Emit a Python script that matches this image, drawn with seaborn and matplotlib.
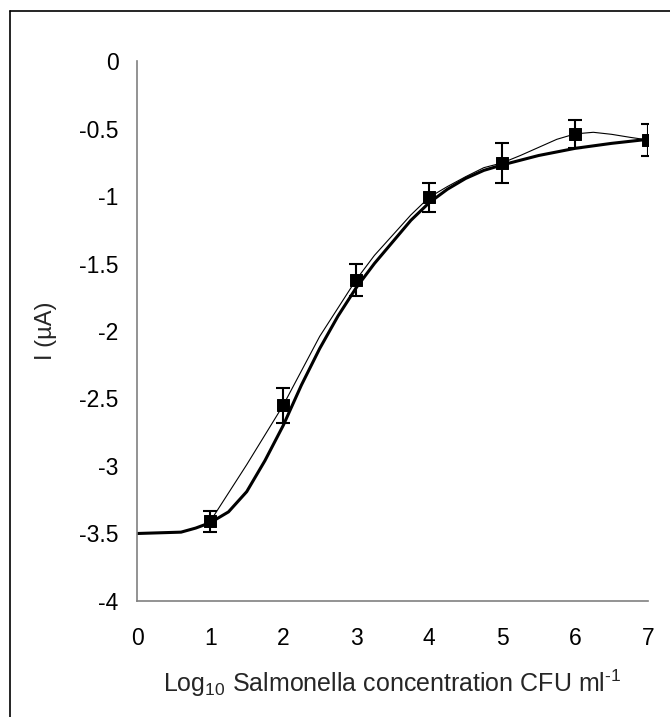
import seaborn as sns
import matplotlib.pyplot as plt
from matplotlib.lines import Line2D

# measured points (mean +/- error)
conc = [1, 2, 3, 4, 5, 6, 7]
current = [-3.41, -2.55, -1.62, -1.01, -0.755, -0.54, -0.585]
err = [0.08, 0.13, 0.12, 0.105, 0.145, 0.105, 0.117]

# smoothed line through the points
smooth_x = [1, 1.25, 1.5, 2, 2.5, 3, 3.25, 3.5, 3.75, 4, 4.25, 4.5, 4.75, 5,
            5.25, 5.5, 5.75, 6, 6.25, 6.5, 6.75, 7]
smooth_y = [-3.41, -3.20, -2.99, -2.55, -2.04, -1.62, -1.44, -1.29, -1.14, -1.01,
            -0.93, -0.857, -0.79, -0.755, -0.70, -0.64, -0.58, -0.54,
            -0.528, -0.543, -0.565, -0.585]

# fitted sigmoid curve
fit_x = [0, 0.6, 0.8, 1, 1.25, 1.5, 1.75, 2, 2.25, 2.5, 2.75, 3, 3.25, 3.5,
         3.75, 4, 4.25, 4.5, 4.75, 5, 5.25, 5.5, 6, 6.5, 7]
fit_y = [-3.5, -3.49, -3.46, -3.42, -3.34, -3.19, -2.96, -2.70, -2.40, -2.13,
         -1.89, -1.68, -1.50, -1.34, -1.18, -1.05, -0.95, -0.87, -0.81, -0.77,
         -0.735, -0.70, -0.647, -0.61, -0.58]

sns.set_style("white")
plt.rcParams['font.family'] = ['Liberation Sans', 'DejaVu Sans']
plt.rcParams['mathtext.fontset'] = 'custom'
plt.rcParams['mathtext.rm'] = 'Liberation Sans'

fig = plt.figure(figsize=(6.7, 7.17), dpi=100)
ax = fig.add_axes([0.2049, 0.1618, 0.7623, 0.7531])

sns.lineplot(x=fit_x, y=fit_y, ax=ax, color='black', linewidth=2.2, sort=False,
             estimator=None)
sns.lineplot(x=smooth_x, y=smooth_y, ax=ax, color='black', linewidth=0.8,
             sort=False, estimator=None)
ax.errorbar(conc, current, yerr=err, fmt='none', ecolor='black', elinewidth=1.5,
            capsize=5, capthick=1.5, zorder=3)
sns.scatterplot(x=conc, y=current, ax=ax, marker='s', s=75, color='black',
                edgecolor='black', zorder=4)

ax.set_xlim(0, 7)
ax.set_ylim(-4, 0)
ax.set_xticks(range(0, 8))
ax.set_yticks([0, -0.5, -1, -1.5, -2, -2.5, -3, -3.5, -4])
ax.set_yticklabels(['0', '-0.5', '-1', '-1.5', '-2', '-2.5', '-3', '-3.5', '-4'])

for s in ['top', 'right']:
    ax.spines[s].set_visible(False)
for s in ['left', 'bottom']:
    ax.spines[s].set_color('#808080')
    ax.spines[s].set_linewidth(1.2)
ax.tick_params(axis='both', direction='out', length=3.6, width=1.2, color='#808080',
               labelsize=16.5, labelcolor='black')
ax.tick_params(axis='y', pad=10)
ax.tick_params(axis='x', pad=15)

ax.set_xlabel(r'Log$_{\mathrm{10}}$ Salmonella concentration CFU ml$^{\text{-1}}$',
              fontsize=18, labelpad=13)
ax.set_ylabel('I (\u00b5A)', fontsize=17, labelpad=16)

# outer frame of the chart area (open on right and bottom)
fig.add_artist(Line2D([10 / 670, 10 / 670], [0, 1 - 11 / 717], color='black', lw=1.2))
fig.add_artist(Line2D([10 / 670, 1], [1 - 11 / 717, 1 - 11 / 717], color='black', lw=1.2))

fig.savefig('out.png', dpi=100)
